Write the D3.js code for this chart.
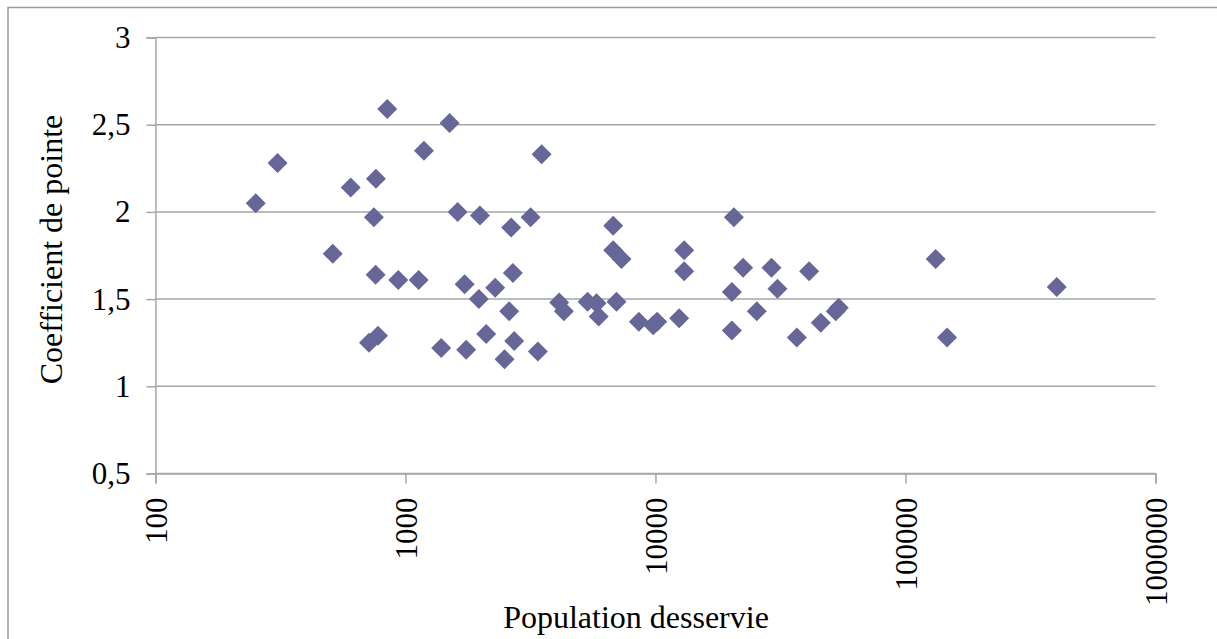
<!DOCTYPE html>
<html>
<head>
<meta charset="utf-8">
<style>
  body { margin: 0; background: #fff; }
  svg text { font-family: "Liberation Serif", "Times New Roman", serif; fill: #000; }
</style>
</head>
<body>
<svg id="chart"></svg>
<script src="https://cdn.jsdelivr.net/npm/d3@7"></script>
<script>

  // population served (x) and peak coefficient (y)
  const population = [252, 308, 512, 604, 715, 748, 760, 762, 777, 846,
    936, 1129, 1186, 1390, 1502, 1617, 1725, 1750, 1967, 1986,
    2104, 2286, 2492, 2600, 2649, 2690, 2723, 3168, 3387, 3506,
    4121, 4303, 5352, 5814, 5930, 6776, 6776, 6985, 7316, 8582,
    9795, 10163, 12446, 13027, 13027, 20210, 20210, 20589, 22426, 25430,
    29120, 30760, 36760, 41170, 45840, 52630, 54100, 132100, 146700, 402700]
  const coefficient = [2.05, 2.28, 1.76, 2.14, 1.25, 1.97, 1.64, 2.19, 1.29, 2.59,
    1.61, 1.61, 2.35, 1.22, 2.51, 2.00, 1.585, 1.21, 1.50, 1.98,
    1.30, 1.565, 1.155, 1.43, 1.91, 1.65, 1.26, 1.97, 1.20, 2.33,
    1.48, 1.43, 1.485, 1.476, 1.40, 1.92, 1.78, 1.485, 1.73, 1.37,
    1.35, 1.37, 1.39, 1.78, 1.66, 1.54, 1.32, 1.97, 1.68, 1.43,
    1.68, 1.56, 1.28, 1.66, 1.365, 1.43, 1.45, 1.73, 1.28, 1.57]

  const xTicks = [100, 1000, 10000, 100000, 1000000]
  const yTicks = [0.5, 1, 1.5, 2, 2.5, 3]

  const width = 1217, height = 639
  const plot = {left: 155.4, right: 1155.5, top: 37.5, bottom: 473.5}
  const gridColor = "#a6a6a6"
  const serif = '"Liberation Serif", "Times New Roman", serif'

  const data = population.map((p, i) => ({x: p, y: coefficient[i]}))

  const svg = d3.select("#chart")
      .attr("width", width)
      .attr("height", height)

  // outer chart frame (only top and left edges are visible)
  svg.append("rect")
    .attr("x", 8).attr("y", 7.5)
    .attr("width", width + 20).attr("height", height + 20)
    .attr("fill", "none")
    .attr("stroke", "#9a9a9a")
    .attr("stroke-width", 1.5)

  const x = d3.scaleLog()
    .domain([100, 1000000])
    .range([plot.left, plot.right])

  const y = d3.scaleLinear()
    .domain([0.5, 3])
    .range([plot.bottom, plot.top])

  // y axis ticks
  const yAxis = svg.append("g")
    .attr("transform", `translate(${plot.left},0)`)
    .call(d3.axisLeft(y)
      .tickValues(yTicks)
      .tickSize(9)
      .tickPadding(16)
      .tickFormat(d => String(d).replace(".", ",")))
  yAxis.select(".domain").attr("stroke", gridColor).attr("stroke-width", 1.5)
  yAxis.selectAll(".tick line").attr("stroke", gridColor).attr("stroke-width", 1.5)
  yAxis.selectAll(".tick text")
    .style("font-size", "31px")
    .style("font-family", serif)
    .style("fill", "#000")

  // horizontal grid lines
  svg.append("g")
    .selectAll("line")
    .data(yTicks)
    .join("line")
      .attr("x1", plot.left)
      .attr("x2", plot.right)
      .attr("y1", d => y(d))
      .attr("y2", d => y(d))
      .attr("stroke", gridColor)
      .attr("stroke-width", 1.5)

  // x axis (log)
  const xAxis = svg.append("g")
    .attr("transform", `translate(0,${plot.bottom})`)
    .call(d3.axisBottom(x)
      .tickValues(xTicks)
      .tickSize(10)
      .tickFormat(d3.format("d")))
  xAxis.select(".domain").attr("stroke", gridColor).attr("stroke-width", 1.5)
  xAxis.selectAll(".tick line").attr("stroke", gridColor).attr("stroke-width", 1.5)
  xAxis.selectAll(".tick text")
    .style("font-size", "31px")
    .style("font-family", serif)
    .style("fill", "#000")
    .attr("text-anchor", "end")
    .attr("transform", "rotate(-90)")
    .attr("x", -24)
    .attr("y", 0)
    .attr("dy", "0.35em")

  // markers: diamonds
  svg.append("g")
    .selectAll("path")
    .data(data)
    .join("path")
      .attr("d", d3.symbol().type(d3.symbolSquare).size(200))
      .attr("transform", d => `translate(${x(d.x)},${y(d.y)}) rotate(45)`)
      .attr("fill", "#666699")

  // axis titles
  svg.append("text")
    .attr("x", 636)
    .attr("y", 628)
    .attr("text-anchor", "middle")
    .style("font-size", "32px")
    .text("Population desservie")

  svg.append("text")
    .attr("transform", `translate(62,${(plot.top + plot.bottom) / 2 - 6}) rotate(-90)`)
    .attr("text-anchor", "middle")
    .style("font-size", "32px")
    .text("Coefficient de pointe")

</script>
</body>
</html>
